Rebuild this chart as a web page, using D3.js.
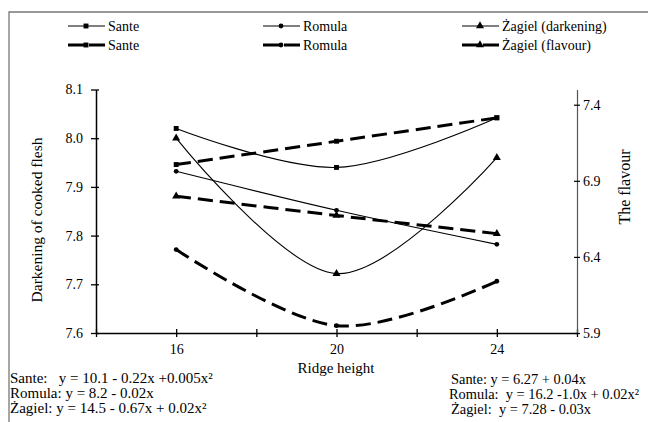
<!DOCTYPE html>
<html>
<head>
<meta charset="utf-8">
<script src="https://cdn.jsdelivr.net/npm/d3@7"></script>
<style>
  body { margin: 0; background: #fff; }
  svg text { font-family: "Times New Roman", "Liberation Serif", "Liberation Sans", Arial, sans-serif; }
</style>
</head>
<body>
<div id="chart"></div>
<script>
"use strict";
// ridge heights (x)
var heights = [16, 20, 24];
var xTicks = [14, 16, 18, 20, 22, 24, 26];
var xLabels = [16, 20, 24];

// darkening of cooked flesh (left axis)
var santeDark = [8.02, 7.94, 8.042];
var romulaDark = [7.932, 7.852, 7.782];
var zagielDark = [8.0, 7.722, 7.96];

// flavour (right axis)
var santeFlav = [7.007, 7.16, 7.314];
var romulaFlav = [6.448, 5.948, 6.24];
var zagielFlav = [6.799, 6.672, 6.553];

var leftTicks = [7.6, 7.7, 7.8, 7.9, 8.0, 8.1];
var rightTicks = [5.9, 6.4, 6.9, 7.4];

var legendNames = ["Sante", "Romula", "Żagiel (darkening)", "Sante", "Romula", "Żagiel (flavour)"];
var eqLeft = ["Sante:   y = 10.1 - 0.22x +0.005x²", "Romula: y = 8.2 - 0.02x", "Żagiel: y = 14.5 - 0.67x + 0.02x²"];
var eqRight = ["Sante: y = 6.27 + 0.04x", "Romula:  y = 16.2 -1.0x + 0.02x²", "Żagiel:  y = 7.28 - 0.03x"];

var width = 648, height = 422;
var svg = d3.select("#chart").append("svg")
    .attr("width", width)
    .attr("height", height);

// outer frame (top and left edge only visible)
svg.append("path")
    .attr("d", "M9," + height + "V12H" + width)
    .attr("fill", "none")
    .attr("stroke", "#777")
    .attr("stroke-width", 1.3);

var x = d3.scaleLinear().domain([14, 26]).range([96, 577]);
var yL = d3.scaleLinear().domain([7.6, 8.1]).range([333, 89.5]);
var yR = d3.scaleLinear().domain([5.9, 7.5]).range([333, 89.5]);

// axes
var xAxis = svg.append("g").attr("transform", "translate(0,333)")
    .call(d3.axisBottom(x).tickValues(xTicks).tickSize(0).tickFormat(""));
xAxis.select(".domain").attr("stroke", "#000").attr("stroke-width", 1.5);
xAxis.selectAll(".tick").append("line")
    .attr("y1", -4).attr("y2", 4).attr("stroke", "#000").attr("stroke-width", 1.3);
xAxis.selectAll(".tick").filter(function (d) { return xLabels.indexOf(d) >= 0; })
    .append("text")
    .attr("y", 21)
    .attr("fill", "#000")
    .attr("text-anchor", "middle")
    .style("font-size", "14px")
    .text(function (d) { return d; });

var leftAxis = svg.append("g").attr("transform", "translate(96,0)")
    .call(d3.axisLeft(yL).tickValues(leftTicks).tickSize(0).tickPadding(13).tickFormat(d3.format(".1f")));
leftAxis.select(".domain").attr("stroke", "#000").attr("stroke-width", 1.5);
leftAxis.selectAll(".tick").append("line")
    .attr("x1", -5).attr("x2", 3).attr("stroke", "#000").attr("stroke-width", 1.3);
leftAxis.selectAll("text").style("font-size", "14px").attr("fill", "#000");

var rightAxis = svg.append("g").attr("transform", "translate(577,0)")
    .call(d3.axisRight(yR).tickValues(rightTicks).tickSize(0).tickPadding(6).tickFormat(d3.format(".1f")));
rightAxis.select(".domain").attr("stroke", "#555").attr("stroke-width", 1.2);
rightAxis.selectAll(".tick").append("line")
    .attr("x1", -3).attr("x2", 3).attr("stroke", "#000").attr("stroke-width", 1.2);
rightAxis.selectAll("text").style("font-size", "14px").attr("fill", "#000");

// axis titles
svg.append("text")
    .attr("transform", "translate(42,220) rotate(-90)")
    .attr("text-anchor", "middle")
    .style("font-size", "15.5px")
    .text("Darkening of  cooked flesh");
svg.append("text")
    .attr("transform", "translate(630,187) rotate(-90)")
    .attr("text-anchor", "middle")
    .style("font-size", "16px")
    .text("The  flavour");
svg.append("text")
    .attr("x", 336).attr("y", 373)
    .attr("text-anchor", "middle")
    .style("font-size", "15px")
    .text("Ridge height");

// series
var series = [
    { values: santeDark, y: yL, marker: "square", dashed: false },
    { values: romulaDark, y: yL, marker: "circle", dashed: false },
    { values: zagielDark, y: yL, marker: "triangle", dashed: false },
    { values: santeFlav, y: yR, marker: "square", dashed: true },
    { values: romulaFlav, y: yR, marker: "circle", dashed: true },
    { values: zagielFlav, y: yR, marker: "triangle", dashed: true }
];

var symbolOf = {
    square: d3.symbol().type(d3.symbolSquare).size(24),
    circle: d3.symbol().type(d3.symbolCircle).size(18),
    triangle: d3.symbol().type(d3.symbolTriangle).size(28)
};

var plot = svg.append("g");
series.forEach(function (s) {
    var pts = s.values.map(function (v, i) { return [x(heights[i]), s.y(v)]; });
    var line = d3.line().curve(d3.curveCardinal.tension(0));
    plot.append("path")
        .attr("d", line(pts))
        .attr("fill", "none")
        .attr("stroke", "#000")
        .attr("stroke-width", s.dashed ? 3 : 1.1)
        .attr("stroke-dasharray", s.dashed ? "15,7" : null);
    plot.selectAll(null)
        .data(pts)
        .enter()
        .append("path")
        .attr("d", symbolOf[s.marker])
        .attr("transform", function (d) { return "translate(" + d[0] + "," + d[1] + ")"; })
        .attr("fill", "#000");
});

// legend
var legendX = [68, 263, 462];
var legendY = [26, 45];
var legend = svg.append("g");
series.forEach(function (s, i) {
    var lx = legendX[i % 3];
    var ly = legendY[Math.floor(i / 3)];
    var g = legend.append("g").attr("transform", "translate(" + lx + "," + ly + ")");
    if (s.dashed) {
        g.append("line").attr("x1", 0).attr("x2", 18).attr("stroke", "#000").attr("stroke-width", 3);
        g.append("line").attr("x1", 21).attr("x2", 37).attr("stroke", "#000").attr("stroke-width", 3);
    } else {
        g.append("line").attr("x1", 0).attr("x2", 37).attr("stroke", "#000").attr("stroke-width", 1.1);
    }
    g.append("path")
        .attr("d", symbolOf[s.marker])
        .attr("transform", "translate(18,0)")
        .attr("fill", "#000");
    g.append("text")
        .attr("x", 40).attr("y", 5)
        .style("font-size", "14px")
        .text(legendNames[i]);
});

// regression equations
svg.append("g").selectAll("text")
    .data(eqLeft)
    .enter()
    .append("text")
    .attr("x", 10)
    .attr("y", function (d, i) { return 383 + i * 15; })
    .style("font-size", "15px")
    .style("white-space", "pre")
    .text(function (d) { return d; });

svg.append("g").selectAll("text")
    .data(eqRight)
    .enter()
    .append("text")
    .attr("x", function (d, i) { return i === 1 ? 449 : 451; })
    .attr("y", function (d, i) { return 384 + i * 15; })
    .style("font-size", "14.4px")
    .style("white-space", "pre")
    .text(function (d) { return d; });
</script>
</body>
</html>
